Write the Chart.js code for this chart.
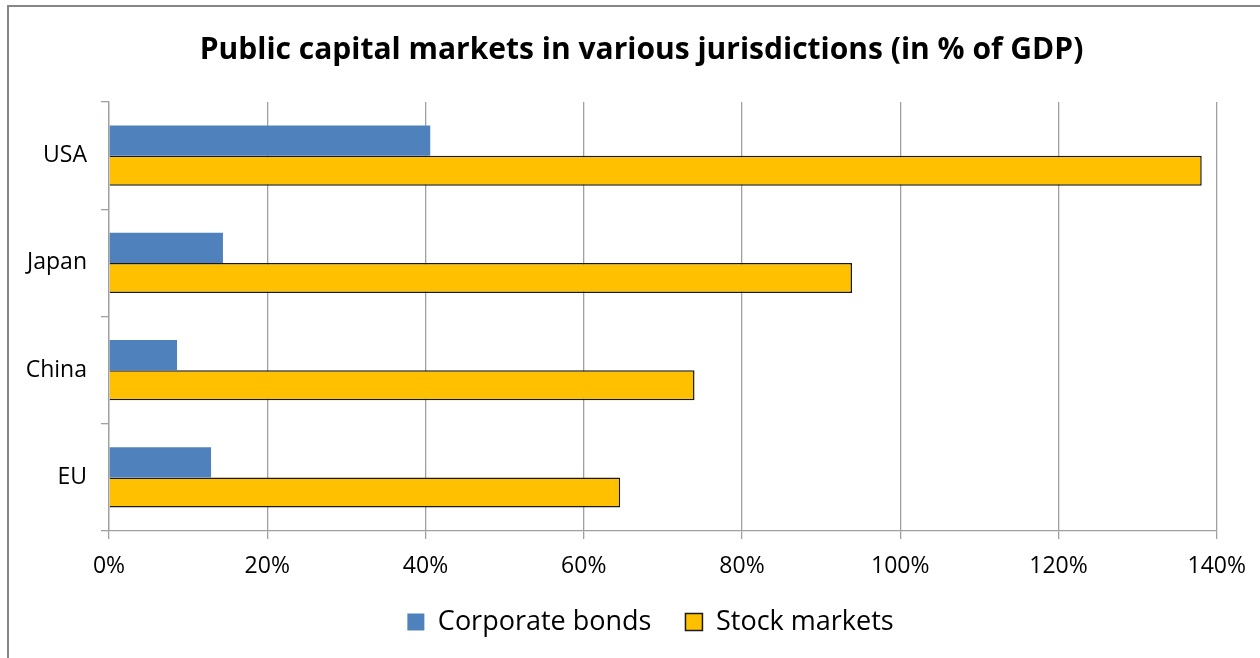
<!DOCTYPE html>
<html>
<head>
<meta charset="utf-8">
<script src="https://cdn.jsdelivr.net/npm/chart.js@4.4.1/dist/chart.umd.min.js"></script>
<style>
  html, body { margin: 0; padding: 0; background: #ffffff; }
  #wrap { position: relative; width: 1260px; height: 658px; }
</style>
</head>
<body>
<div id="wrap"><canvas id="c" width="1260" height="658"></canvas></div>
<script>
const categories = ['USA', 'Japan', 'China', 'EU'];
const corporateBonds = [40.6, 14.4, 8.6, 12.9];
const stockMarkets = [138.1, 93.9, 74.0, 64.6];
const seriesNames = ['Corporate bonds', 'Stock markets'];
const titleText = 'Public capital markets in various jurisdictions (in % of GDP)';

const FONT = '"Open Sans", Lato, sans-serif';

// Outer frame around the whole chart
const framePlugin = {
  id: 'frame',
  beforeDraw(chart) {
    const ctx = chart.ctx;
    ctx.save();
    ctx.fillStyle = '#ffffff';
    ctx.fillRect(0, 0, chart.width, chart.height);
    ctx.strokeStyle = '#868686';
    ctx.lineWidth = 2;
    ctx.strokeRect(8, 6, chart.width + 10, chart.height + 10);
    ctx.restore();
  }
};

// The frame runs past the right edge, so title and legend sit centred on the wider frame
const centreShift = {
  id: 'centreShift',
  afterLayout(chart) {
    if (chart.titleBlock) { chart.titleBlock.left += 22; chart.titleBlock.right += 22; }
    if (chart.legend) { chart.legend.left += 31; chart.legend.right += 31; }
  }
};

new Chart(document.getElementById('c'), {
  type: 'bar',
  data: {
    labels: categories,
    datasets: [
      {
        label: seriesNames[0],
        data: corporateBonds,
        backgroundColor: '#4F81BD',
        borderColor: '#4F81BD',
        borderWidth: 0,
        categoryPercentage: 0.563,
        barPercentage: 1.0
      },
      {
        label: seriesNames[1],
        data: stockMarkets,
        backgroundColor: '#FFC000',
        borderColor: '#1a1a1a',
        borderWidth: 1.5,
        categoryPercentage: 0.563,
        barPercentage: 1.0
      }
    ]
  },
  plugins: [framePlugin, centreShift],
  options: {
    indexAxis: 'y',
    responsive: false,
    animation: false,
    devicePixelRatio: 1,
    layout: { padding: { left: 20, right: 41, top: 20, bottom: 12.5 } },
    plugins: {
      title: {
        display: true,
        text: titleText,
        color: '#000000',
        font: { family: FONT, size: 30, weight: 'bold' },
        padding: { top: 12, bottom: 34 }
      },
      legend: {
        position: 'bottom',
        labels: {
          color: '#000000',
          font: { family: FONT, size: 27 },
          boxWidth: 17,
          boxHeight: 17,
          padding: 34
        }
      },
      tooltip: { enabled: false }
    },
    scales: {
      x: {
        min: 0,
        max: 140,
        ticks: {
          stepSize: 20,
          color: '#000000',
          font: { family: FONT, size: 23 },
          padding: 14,
          callback: v => v + '%'
        },
        grid: { color: '#a0a0a0', lineWidth: 1.3, tickLength: 8 },
        border: { color: '#a0a0a0', width: 1.3 },
        afterFit(scale) { scale.height = 43.5; }
      },
      y: {
        ticks: {
          color: '#000000',
          font: { family: FONT, size: 23 },
          padding: 14
        },
        grid: { color: '#a0a0a0', lineWidth: 1.3, tickLength: 8, drawOnChartArea: false, offset: true },
        border: { color: '#a0a0a0', width: 1.3 },
        afterFit(scale) { scale.width = 89; }
      }
    }
  }
});
</script>
</body>
</html>
